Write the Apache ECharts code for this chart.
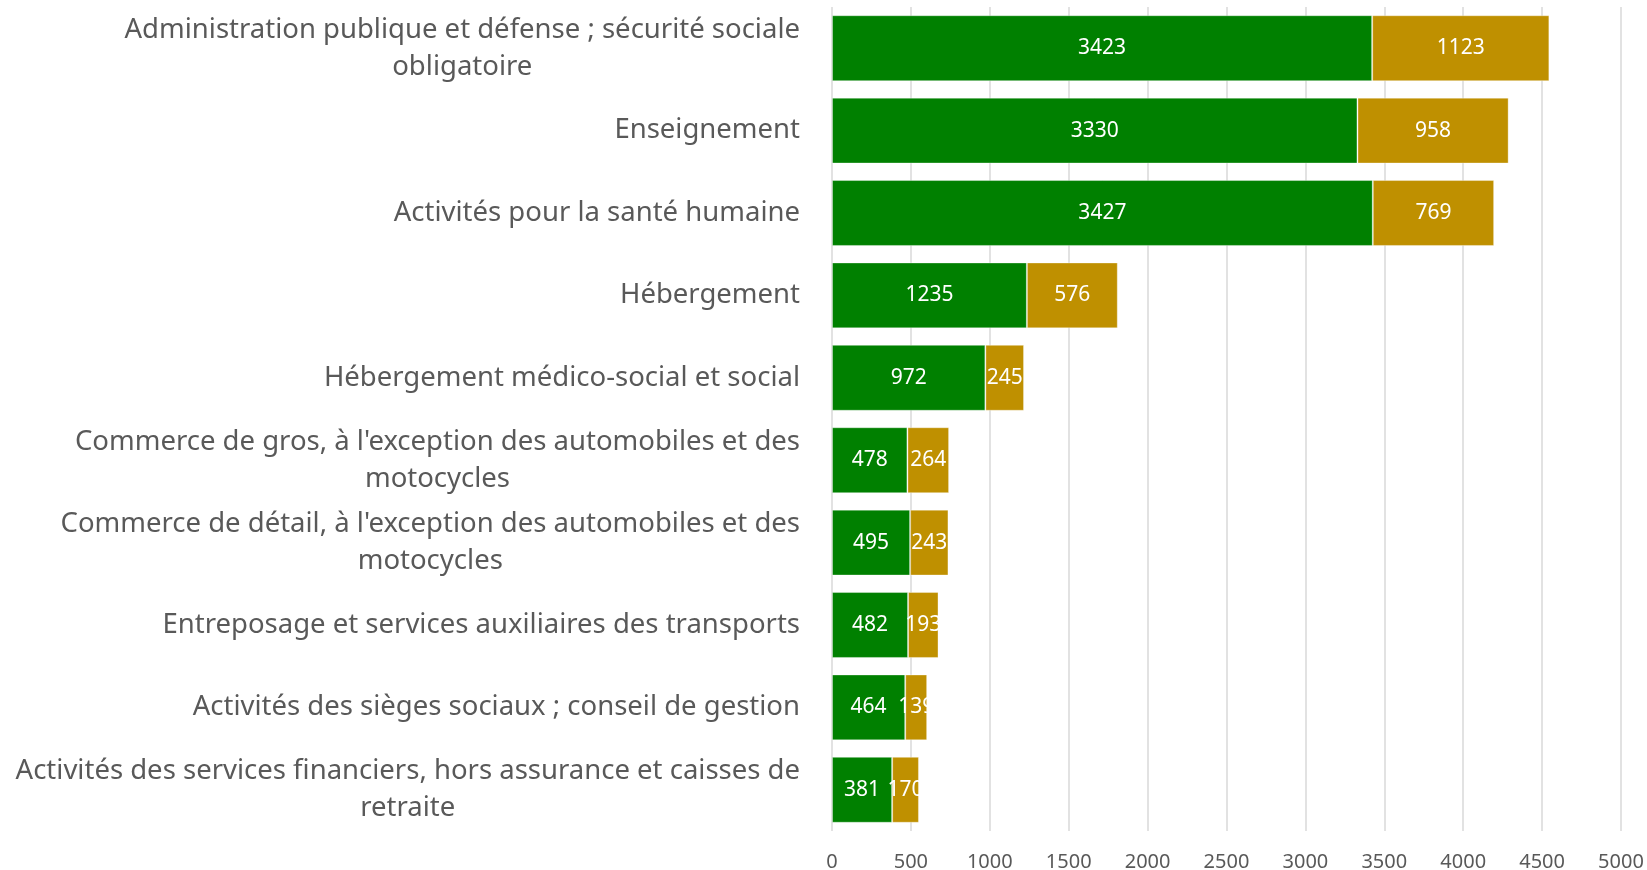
<!DOCTYPE html>
<html lang="fr">

<head>
    <meta charset="UTF-8">
    <title>Secteurs</title>
    <script src="https://cdn.jsdelivr.net/npm/echarts@6/dist/echarts.min.js"></script>
    <style>
        html, body { margin: 0; padding: 0; background: #fff; }
        #main { width: 1647px; height: 870px; }
    </style>
</head>

<body>
    <div id="main"></div>

    <script>
        // catégories (haut -> bas), avec les retours à la ligne du graphique
        var categories = [
            'Administration publique et défense ; sécurité sociale\nobligatoire',
            'Enseignement',
            'Activités pour la santé humaine',
            'Hébergement',
            'Hébergement médico-social et social',
            "Commerce de gros, à l'exception des automobiles et des\nmotocycles",
            "Commerce de détail, à l'exception des automobiles et des\nmotocycles",
            'Entreposage et services auxiliaires des transports',
            'Activités des sièges sociaux ; conseil de gestion',
            'Activités des services financiers, hors assurance et caisses de\nretraite'
        ];
        var serie1 = [3423, 3330, 3427, 1235, 972, 478, 495, 482, 464, 381];
        var serie2 = [1123, 958, 769, 576, 245, 264, 243, 193, 139, 170];
        var xTicks = [0, 500, 1000, 1500, 2000, 2500, 3000, 3500, 4000, 4500, 5000];

        var myChart = echarts.init(document.getElementById('main'));

        var barLabel = {
            show: true,
            position: 'inside',
            color: '#fff',
            fontFamily: 'Noto Sans',
            fontSize: 21
        };

        var option = {
            animation: false,
            grid: { left: 832, right: 26, top: 7, bottom: 39, containLabel: false, outerBoundsMode: 'none' },
            xAxis: {
                type: 'value',
                min: xTicks[0],
                max: xTicks[xTicks.length - 1],
                interval: 500,
                axisLine: { show: false },
                axisTick: { show: false },
                splitLine: { lineStyle: { color: '#d9d9d9', width: 1.5 } },
                axisLabel: {
                    margin: 21,
                    color: '#595959',
                    fontFamily: 'Noto Sans',
                    fontSize: 20,
                    formatter: function (v) { return String(v); }
                }
            },
            yAxis: {
                type: 'category',
                inverse: true,
                data: categories,
                axisLine: { show: false },
                axisTick: { show: false },
                axisLabel: {
                    margin: 32,
                    align: 'right',
                    color: '#595959',
                    fontFamily: 'Noto Sans',
                    fontSize: 27.5,
                    lineHeight: 37,
                    // lignes centrées entre elles, bloc aligné à droite
                    formatter: function (v) {
                        return v.split('\n').map(function (s) { return '{c|' + s + '}'; }).join('\n');
                    },
                    rich: {
                        c: {
                            align: 'center',
                            color: '#595959',
                            fontFamily: 'Noto Sans',
                            fontSize: 27.5,
                            lineHeight: 37
                        }
                    }
                }
            },
            series: [
                {
                    name: 'Série 1',
                    type: 'bar',
                    stack: 'total',
                    barCategoryGap: '20%',
                    itemStyle: { color: '#008000', borderColor: 'rgba(255,255,255,0.35)', borderWidth: 1 },
                    label: barLabel,
                    data: serie1
                },
                {
                    name: 'Série 2',
                    type: 'bar',
                    stack: 'total',
                    barCategoryGap: '20%',
                    itemStyle: { color: '#bf9000', borderColor: 'rgba(255,255,255,0.35)', borderWidth: 1 },
                    label: barLabel,
                    data: serie2
                }
            ]
        };
        myChart.setOption(option);
    </script>
</body>

</html>
